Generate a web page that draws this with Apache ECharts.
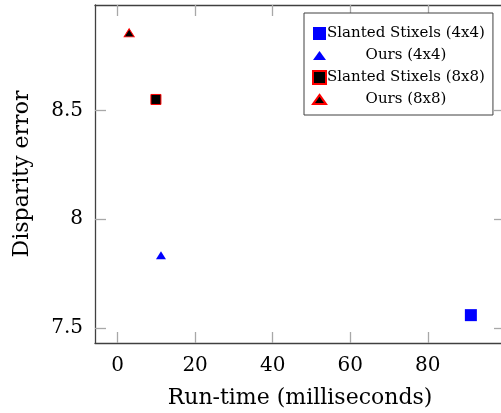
<!DOCTYPE html>
<html><head><meta charset="utf-8">
<script src="https://cdn.jsdelivr.net/npm/echarts@6/dist/echarts.min.js"></script>
<style>html,body{margin:0;padding:0;background:#fff}#c{width:501px;height:413px}</style>
</head><body><div id="c"></div>
<script>
const seriesNames = ['Slanted Stixels (4x4)', 'Ours (4x4)', 'Slanted Stixels (8x8)', 'Ours (8x8)'];
const runTimes = [91.1, 11.2, 9.9, 3.0];
const dispErrors = [7.559, 7.834, 8.55, 8.856];
const xTicks = [0, 20, 40, 60, 80];
const yTicks = [7.5, 8, 8.5];

const FONT = 'DejaVu Serif';
const frame = '#404040';
const tickCol = '#a8a8a8';
const styles = [
  {symbol: 'rect', size: 12, color: '#0000ff', border: '#0000ff', bw: 0},
  {symbol: 'triangle', size: [10, 8], color: '#0000ff', border: '#0000ff', bw: 0},
  {symbol: 'rect', size: 10, color: '#000000', border: '#ff0000', bw: 1},
  {symbol: 'triangle', size: [10, 8], color: '#000000', border: '#ff0000', bw: 1}
];
const legendIcons = ['rect', 'path://M5,0L10,7L0,7Z', 'rect', 'path://M5,0L10,7L0,7Z'];

function xAx(pos, main) {
  return {
    type: 'value', position: pos, min: -5.81, max: 99.9,
    axisLine: {show: true, onZero: false, lineStyle: {color: frame, width: 1.3}},
    axisTick: {show: true, inside: true, length: 11, customValues: xTicks, lineStyle: {color: tickCol, width: 1.3}},
    axisLabel: {show: true, customValues: xTicks, color: main ? '#000' : 'rgba(0,0,0,0)', fontFamily: FONT, fontSize: 20, margin: 13},
    splitLine: {show: false},
    name: main ? 'Run-time (milliseconds)' : '', nameLocation: 'middle', nameGap: 44,
    nameTextStyle: {color: '#000', fontFamily: FONT, fontSize: 22}
  };
}
function yAx(pos, main) {
  return {
    type: 'value', position: pos, min: 7.431, max: 8.984,
    axisLine: {show: true, onZero: false, lineStyle: {color: frame, width: 1.3}},
    axisTick: {show: true, inside: true, length: 11, customValues: yTicks, lineStyle: {color: tickCol, width: 1.3}},
    axisLabel: {show: true, customValues: yTicks, color: main ? '#000' : 'rgba(0,0,0,0)', fontFamily: FONT, fontSize: 20, margin: 12,
      formatter: v => String(v)},
    splitLine: {show: false},
    name: main ? 'Disparity error' : '', nameLocation: 'middle', nameGap: 62,
    nameTextStyle: {color: '#000', fontFamily: FONT, fontSize: 22}
  };
}

const chart = echarts.init(document.getElementById('c'), null, {renderer: 'canvas'});
chart.setOption({
  animation: false,
  backgroundColor: '#fff',
  grid: {left: 95, top: 5, width: 410, height: 338, outerBoundsMode: 'none'},
  xAxis: [xAx('bottom', true), xAx('top', false)],
  yAxis: [yAx('left', true), yAx('right', false)],
  legend: {
    orient: 'vertical', left: 304, top: 13,
    padding: [13, 8, 8, 8], itemGap: 7, itemWidth: 13, itemHeight: 13,
    borderColor: frame, borderWidth: 1, backgroundColor: '#fff',
    data: seriesNames.map((n, i) => ({name: n, icon: legendIcons[i]})),
    formatter: n => '{c|' + n + '}',
    textStyle: {color: '#000', fontFamily: FONT, fontSize: 15,
      rich: {c: {width: 150, align: 'center', fontFamily: FONT, fontSize: 15, color: '#000'}}}
  },
  series: seriesNames.map((n, i) => ({
    name: n, type: 'scatter', xAxisIndex: 0, yAxisIndex: 0,
    symbol: styles[i].symbol, symbolSize: styles[i].size,
    itemStyle: {color: styles[i].color, borderColor: styles[i].border, borderWidth: styles[i].bw, opacity: 1},
    data: [[runTimes[i], dispErrors[i]]]
  }))
});
</script></body></html>
